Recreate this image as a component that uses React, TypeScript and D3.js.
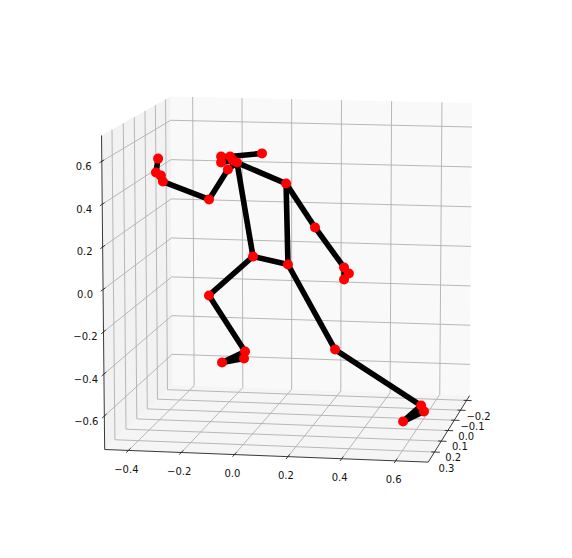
import React from "react";
import * as d3 from "d3";

const xTicks = [-0.4, -0.2, 0.0, 0.2, 0.4, 0.6];
const yTicks = [-0.2, -0.1, 0.0, 0.1, 0.2, 0.3];
const zTicks = [-0.6, -0.4, -0.2, 0.0, 0.2, 0.4, 0.6];
const xLim = [-0.49, 0.72];
const yLim = [-0.25, 0.39];
const zLim = [-0.76, 0.72];

const jointX = [-0.248,-0.201,-0.237,-0.182,-0.039,-0.184,-0.148,0.062,0.191,0.273,0.283,0.270,-0.278,-0.503,-0.519,-0.531,-0.530,-0.075,0.076,-0.261,-0.100,-0.097,-0.210,0.285,0.669,0.685,0.613];
const jointY = [-0.15,-0.12,-0.12,-0.1,-0.02,-0.05,-0.05,0,0.05,-0.05,-0.08,-0.06,-0.1,-0.2,-0.22,-0.2,-0.22,-0.02,0.02,-0.05,0,0.02,-0.05,0.1,0.3,0.32,0.34];
const jointZ = [0.456,0.467,0.436,0.454,0.519,0.426,0.461,0.381,0.189,-0.043,-0.085,-0.107,0.257,0.305,0.329,0.350,0.414,0.010,-0.008,-0.203,-0.455,-0.480,-0.538,-0.383,-0.541,-0.558,-0.599];
const bones = [[1,4],[0,1],[0,2],[2,3],[1,3],[3,6],[6,7],[6,17],[7,18],[17,18],[7,8],[8,9],[9,10],[10,11],[9,11],[6,5],[5,12],[12,13],[13,14],[14,15],[15,16],[13,15],[17,19],[19,20],[20,21],[21,22],[20,22],[18,23],[23,24],[24,25],[25,26],[24,26]];

const th = 10*Math.PI/180, ph = 10*Math.PI/180, D=11, fx=3488, fy=3384, cx=293.7, cy=271.3;
const sx=d3.scaleLinear().domain(xLim).range([-.5,.5]);
const sy=d3.scaleLinear().domain(yLim).range([.5,-.5]);
const sz=d3.scaleLinear().domain(zLim).range([-.5,.5]);
function proj(x:number,y:number,z:number){
  const X=sx(x),Y=sy(y),Z=sz(z);
  const xc=X*Math.cos(th)+Y*Math.sin(th), dp=-X*Math.sin(th)+Y*Math.cos(th);
  const yc=Z*Math.cos(ph)+dp*Math.sin(ph), zc=dp*Math.cos(ph)-Z*Math.sin(ph);
  return [cx+fx*xc/(D+zc), cy-fy*yc/(D+zc)];
}
const L=(a:number[],b:number[],k:string,c="#b0b0b0",w=0.9)=><line key={k} x1={a[0]} y1={a[1]} x2={b[0]} y2={b[1]} stroke={c} strokeWidth={w}/>;
const fmt=(t:number,dp:number)=>t.toFixed(dp).replace("-","\u2212");
const Tx=({p,dx,dy,s}:{p:number[],dx:number,dy:number,s:string})=><text x={p[0]+dx} y={p[1]+dy} textAnchor="middle" dominantBaseline="central" fontSize={10} fill="#111">{s}</text>;
export default function App(){
  const [x0,x1]=xLim,[y0,y1]=yLim,[z0,z1]=zLim;
  const poly=(c:number[][])=>c.map(p=>p.join(",")).join(" ");
  const pts=jointX.map((x,i)=>proj(x,jointY[i],jointZ[i]));
  return <svg width={572} height={558} style={{position:"absolute",left:0,top:0}} fontFamily="DejaVu Sans">
    <polygon points={poly([proj(x0,y1,z0),proj(x0,y0,z0),proj(x0,y0,z1),proj(x0,y1,z1)])} fill="#f2f2f2"/>
    <polygon points={poly([proj(x0,y0,z0),proj(x1,y0,z0),proj(x1,y0,z1),proj(x0,y0,z1)])} fill="#f9f9f9"/>
    <polygon points={poly([proj(x0,y1,z0),proj(x1,y1,z0),proj(x1,y0,z0),proj(x0,y0,z0)])} fill="#f5f5f5"/>
    {xTicks.map(t=><g key={t}>{L(proj(t,y1,z0),proj(t,y0,z0),"a")}{L(proj(t,y0,z0),proj(t,y0,z1),"b")}</g>)}
    {yTicks.map(t=><g key={t}>{L(proj(x1,t,z0),proj(x0,t,z0),"a")}{L(proj(x0,t,z0),proj(x0,t,z1),"b")}</g>)}
    {zTicks.map(t=><g key={t}>{L(proj(x0,y1,t),proj(x0,y0,t),"a")}{L(proj(x0,y0,t),proj(x1,y0,t),"b")}</g>)}
    {L(proj(x0,y1,z0),proj(x1,y1,z0),"ax","#222")}{L(proj(x1,y1,z0),proj(x1,y0,z0),"ay","#222")}{L(proj(x0,y1,z0),proj(x0,y1,z1),"az","#222")}
    {xTicks.map(t=><g key={t}>{L(proj(t,y1-0.02,z0),proj(t,y1+0.02,z0),"t","#222")}<Tx p={proj(t,y1,z0)} dx={-2} dy={19} s={fmt(t,1)}/></g>)}
    {yTicks.map(t=><g key={t}>{L(proj(x1-0.012,t,z0),proj(x1+0.02,t,z0),"t","#222")}<Tx p={proj(x1,t,z0)} dx={12} dy={16} s={fmt(t,1)}/></g>)}
    {zTicks.map(t=><g key={t}>{L(proj(x0,y1-0.02,t),proj(x0,y1+0.02,t),"t","#222")}<Tx p={proj(x0,y1,t)} dx={-18} dy={5} s={fmt(t,1)}/></g>)}
    {bones.map(([a,b],i)=><line key={i} x1={pts[a][0]} y1={pts[a][1]} x2={pts[b][0]} y2={pts[b][1]} stroke="black" strokeWidth={5.6}/>)}
    {pts.map((p,i)=><circle key={i} cx={p[0]} cy={p[1]} r={5} fill="red"/>)}
  </svg>;
}
